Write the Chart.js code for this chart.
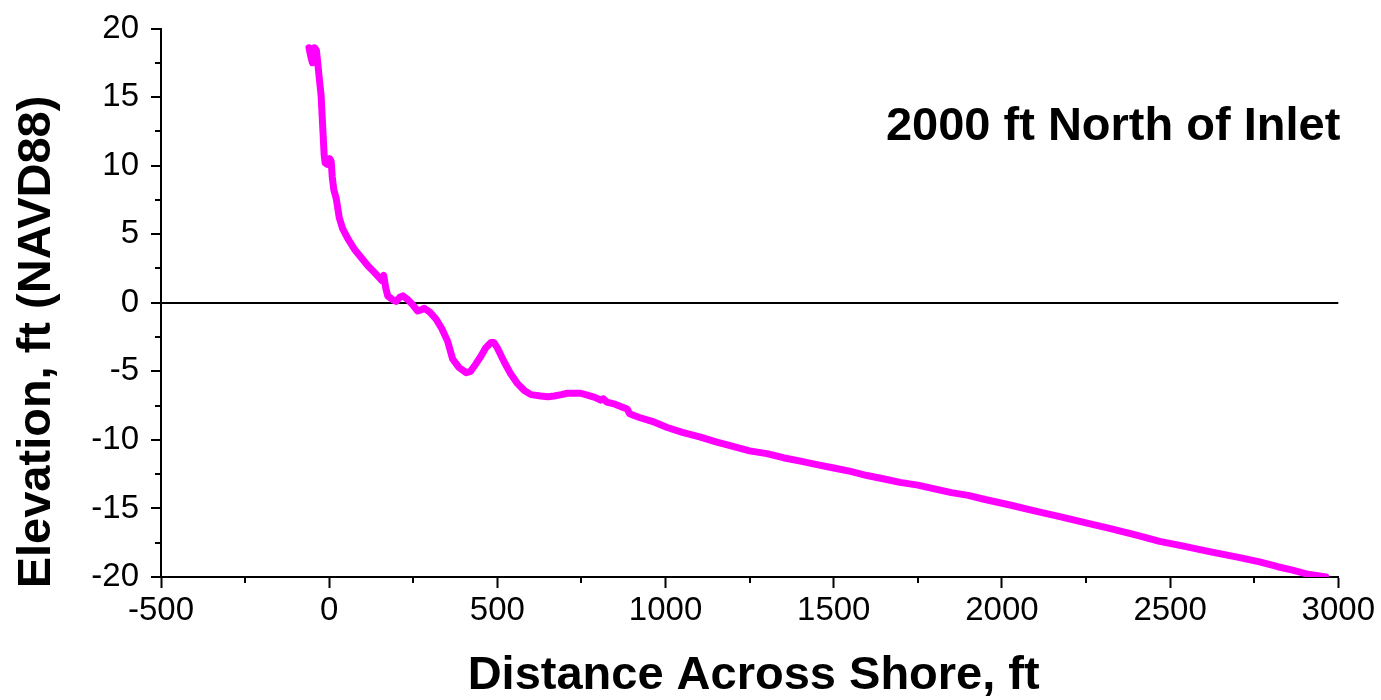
<!DOCTYPE html>
<html>
<head>
<meta charset="utf-8">
<title>Perfil de playa</title>
<script src="https://cdn.jsdelivr.net/npm/chart.js@4.4.0/dist/chart.umd.min.js"></script>
<style>
  html, body { margin: 0; padding: 0; background: #fff; }
</style>
</head>
<body>
<canvas id="perfil" width="1381" height="700"></canvas>
<script>
// perfil medido: distancia (ft) y elevacion (ft NAVD88)
var distancia = [-60, -55, -50, -44, -38, -34, -30, -24, -19, -15, -12, -6, 2, 6, 9, 14, 21, 30, 40, 55,
  75, 95, 115, 135, 150, 157, 162, 168, 174, 190, 199, 210, 219, 235, 250, 263, 275, 283, 300, 318,
  335, 352, 367, 385, 407, 420, 435, 451, 465, 481, 490, 500, 520, 540, 560, 580, 600, 629, 650, 669,
  690, 708, 730, 748, 770, 790, 807, 815, 825, 850, 870, 886, 893, 920, 960, 1005, 1050, 1104, 1150, 1203,
  1250, 1301, 1350, 1401, 1450, 1500, 1550, 1599, 1650, 1697, 1750, 1796, 1850, 1900, 1950, 2024, 2100, 2172, 2250, 2320,
  2400, 2469, 2540, 2617, 2700, 2766, 2820, 2864, 2910, 2963];
var elevacion = [18.6, 18.0, 17.5, 18.6, 18.4, 17.5, 16.5, 15.1, 12.7, 10.8, 10.2, 10.1, 10.5, 10.3, 9.2, 8.2, 7.6, 6.2, 5.4, 4.7,
  3.9, 3.3, 2.7, 2.2, 1.8, 1.6, 2.0, 1.1, 0.5, 0.2, 0.1, 0.4, 0.5, 0.2, -0.2, -0.6, -0.5, -0.4, -0.7, -1.2,
  -1.9, -2.8, -4.1, -4.7, -5.1, -5.0, -4.5, -3.9, -3.3, -2.9, -2.9, -3.3, -4.3, -5.2, -5.9, -6.4, -6.7, -6.8, -6.85, -6.8,
  -6.7, -6.6, -6.6, -6.6, -6.75, -6.9, -7.1, -7.0, -7.25, -7.4, -7.6, -7.75, -8.1, -8.35, -8.65, -9.1, -9.45, -9.8, -10.15, -10.5,
  -10.8, -11.0, -11.3, -11.55, -11.8, -12.05, -12.3, -12.6, -12.85, -13.1, -13.3, -13.55, -13.85, -14.05, -14.35, -14.75, -15.2, -15.6, -16.05, -16.45,
  -16.95, -17.4, -17.75, -18.15, -18.55, -18.9, -19.25, -19.5, -19.8, -20.0];

// etiquetas de los ejes
var ticksX = [-500, 0, 500, 1000, 1500, 2000, 2500, 3000];
var ticksY = [-20, -15, -10, -5, 0, 5, 10, 15, 20];

var tituloX = 'Distance Across Shore, ft';
var tituloY = 'Elevation, ft (NAVD88)';
var nombrePerfil = '2000 ft North of Inlet';

var fuente = '"Liberation Sans", Arial, Helvetica, sans-serif';

var puntos = [];
for (var i = 0; i < distancia.length; i++) {
  puntos.push({ x: distancia[i], y: elevacion[i] });
}

// marcas menores a mitad de cada intervalo
var marcasMenores = {
  id: 'marcasMenores',
  afterDraw: function(chart) {
    var ejeX = chart.scales.x;
    var ejeY = chart.scales.y;
    var ctx = chart.ctx;
    var pasoX = ticksX[1] - ticksX[0];
    var pasoY = ticksY[1] - ticksY[0];
    ctx.save();
    ctx.strokeStyle = '#000';
    ctx.lineWidth = 2;
    ctx.beginPath();
    for (var v = ticksX[0] + pasoX / 2; v < ticksX[ticksX.length - 1]; v += pasoX) {
      var px = Math.round(ejeX.getPixelForValue(v));
      ctx.moveTo(px, ejeX.top);
      ctx.lineTo(px, ejeX.top + 6);
    }
    for (var w = ticksY[0] + pasoY / 2; w < ticksY[ticksY.length - 1]; w += pasoY) {
      var py = Math.round(ejeY.getPixelForValue(w));
      ctx.moveTo(ejeY.right, py);
      ctx.lineTo(ejeY.right - 6, py);
    }
    ctx.stroke();
    ctx.restore();
  }
};

// titulos de ejes y nombre del perfil
var titulos = {
  id: 'titulos',
  afterDraw: function(chart) {
    var ctx = chart.ctx;
    var area = chart.chartArea;
    ctx.save();
    ctx.fillStyle = '#000';
    ctx.font = 'bold 47px ' + fuente;
    ctx.textBaseline = 'alphabetic';

    ctx.textAlign = 'center';
    ctx.fillText(tituloX, (area.left + area.right) / 2 + 4, 689);

    ctx.textAlign = 'right';
    ctx.fillText(nombrePerfil, area.right + 2, 140);

    ctx.translate(50, 342);
    ctx.rotate(-Math.PI / 2);
    ctx.textAlign = 'center';
    ctx.fillText(tituloY, 0, 0);
    ctx.restore();
  }
};

var canvas = document.getElementById('perfil').getContext('2d');
var chart = new Chart(canvas, {
  type: 'line',
  data: {
    datasets: [{
      label: nombrePerfil,
      data: puntos,
      borderColor: '#ff00ff',
      backgroundColor: '#ff00ff',
      borderWidth: 7,
      pointRadius: 0,
      tension: 0,
      fill: false,
      borderJoinStyle: 'round',
      borderCapStyle: 'round'
    }]
  },
  options: {
    responsive: false,
    animation: false,
    layout: { padding: { top: 26, right: 42, left: 0, bottom: 0 } },
    plugins: {
      legend: { display: false },
      tooltip: { enabled: false }
    },
    scales: {
      x: {
        type: 'linear',
        min: ticksX[0],
        max: ticksX[ticksX.length - 1],
        afterFit: function(scale) { scale.height = 123; },
        border: { display: true, color: '#000', width: 2 },
        grid: { drawOnChartArea: false, drawTicks: true, tickLength: 11, tickColor: '#000', tickWidth: 2 },
        ticks: {
          stepSize: ticksX[1] - ticksX[0],
          color: '#000',
          padding: 6,
          maxRotation: 0,
          autoSkip: false,
          font: { family: fuente, size: 33, lineHeight: 1 },
          callback: function(valor) { return String(valor); }
        }
      },
      y: {
        type: 'linear',
        min: ticksY[0],
        max: ticksY[ticksY.length - 1],
        afterFit: function(scale) { scale.width = 161; },
        border: { display: true, color: '#000', width: 2 },
        grid: {
          color: function(ctx) {
            return ctx.tick && ctx.tick.value === 0 ? '#000' : 'rgba(0,0,0,0)';
          },
          lineWidth: 2,
          drawTicks: true,
          tickLength: 10,
          tickColor: '#000',
          tickWidth: 2
        },
        ticks: {
          stepSize: ticksY[1] - ticksY[0],
          color: '#000',
          padding: 12,
          autoSkip: false,
          font: { family: fuente, size: 33, lineHeight: 1 },
          callback: function(valor) { return String(valor); }
        }
      }
    }
  },
  plugins: [marcasMenores, titulos]
});
</script>
</body>
</html>
